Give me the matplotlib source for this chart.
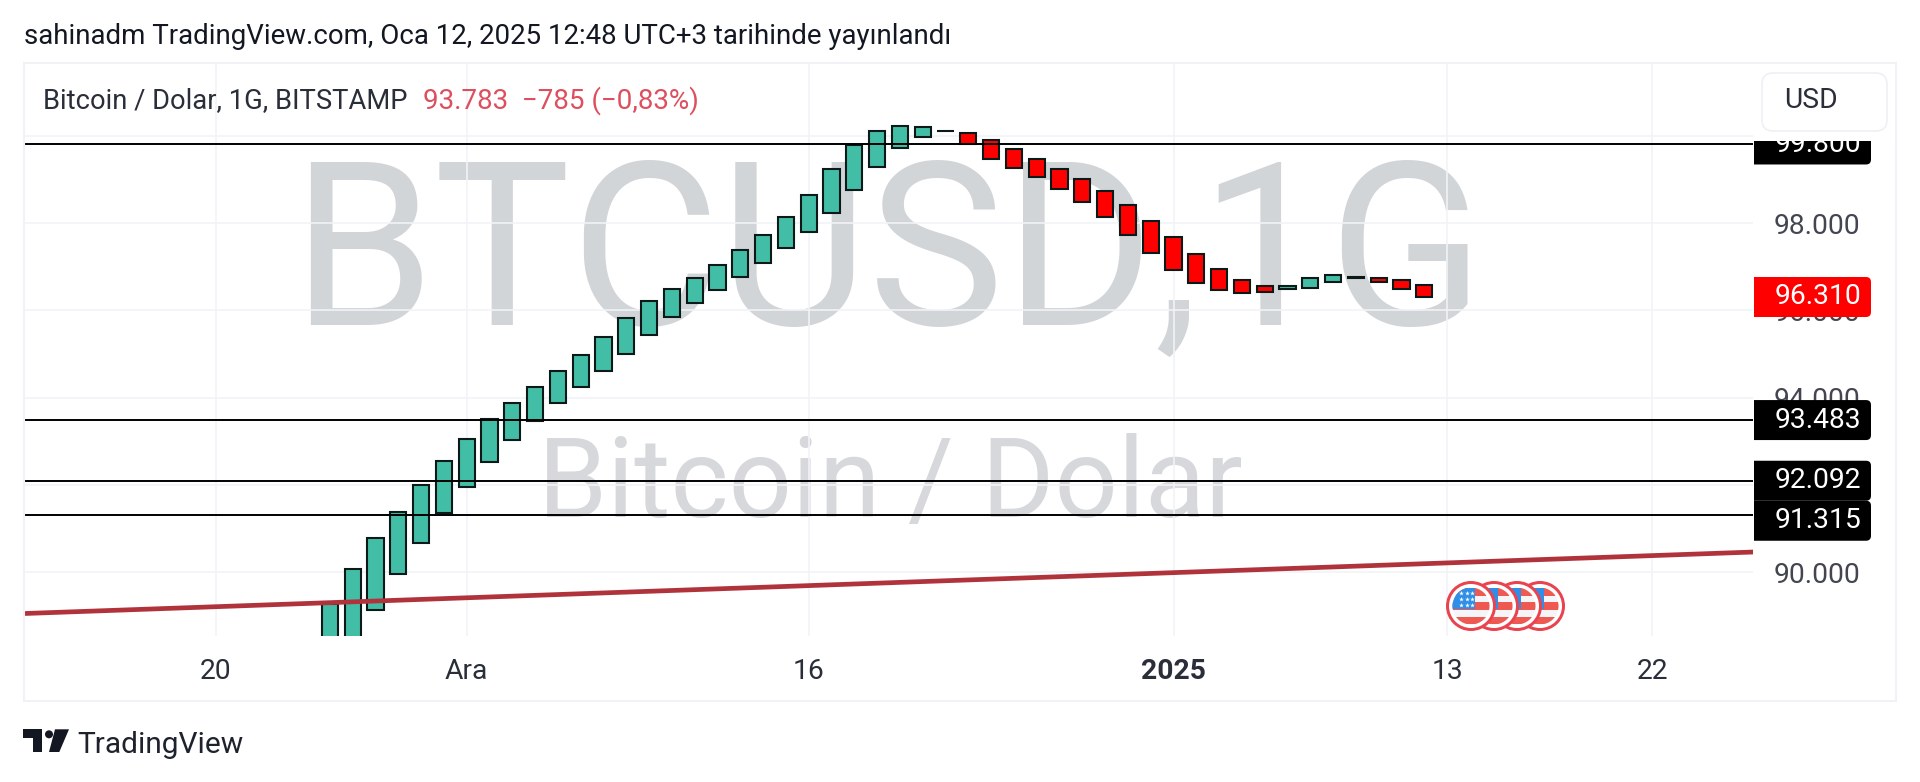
#BTCUSD daily chart, TradingView style
import matplotlib
matplotlib.use("Agg")
import matplotlib.pyplot as plt
import matplotlib.dates as mdates
from matplotlib.patches import Rectangle, FancyBboxPatch, Circle, Polygon
import pandas as pd

plt.rcParams['font.family'] = ['Roboto', 'DejaVu Sans']

#candle data, one per day (first two opens are below the visible area)
first_day = '2024-11-25'
opens = [88000, 88300, 89129, 89961, 90671, 91352, 91948, 92514, 93033, 93468,
         93867, 94234, 94614, 95004, 95433, 95838, 96159, 96471, 96762, 97090,
         97420, 97787, 98229, 98750, 99284, 99712, 99965, 100100, 100056, 99910,
         99696, 99467, 99245, 99015, 98734, 98413, 98053, 97686, 97296, 96952,
         96700, 96556, 96480, 96517, 96641, 96762, 96746, 96687, 96586]
closes = [89259, 90075, 90772, 91382, 91987, 92551, 93049, 93514, 93874, 94234,
          94607, 94981, 95387, 95829, 96212, 96487, 96739, 97044, 97374, 97725,
          98131, 98649, 99238, 99788, 100116, 100224, 100194, 100109, 99804, 99474,
          99268, 99048, 98779, 98475, 98131, 97725, 97312, 96923, 96618, 96464,
          96402, 96418, 96556, 96746, 96815, 96740, 96654, 96480, 96304]

#horizontal levels
level_values = [99800, 93483, 92092, 91315]
level_labels = ['99.800', '93.483', '92.092', '91.315']
last_price = 96304
last_label = '96.310'

#trend line
trend_dates = ['2024-11-11 14:00', '2025-01-26 10:00']
trend_prices = [89048, 90458]

#axis ticks
y_ticks = [90000, 92000, 94000, 96000, 98000, 100000]
y_labels = ['90.000', '92.000', '94.000', '96.000', '98.000', '']
x_tick_dates = ['2024-11-20', '2024-12-01', '2024-12-16', '2025-01-01', '2025-01-13', '2025-01-22']
x_tick_labels = ['20', 'Ara', '16', '2025', '13', '22']

W = 1920
H = 782
GREEN = '#43bea6'
RED = '#ff0000'
EDGE = '#0b1a18'
GRID = '#f1f3f7'
TEXT = '#2a2e39'
FS = 20.3

fig = plt.figure(figsize=(W / 100, H / 100), dpi=100, facecolor='white')

#back layer in pixels, for the watermarks
back = fig.add_axes([0, 0, 1, 1], zorder=0)
back.set_xlim(0, W)
back.set_ylim(H, 0)
back.axis('off')
back.text(888, 262, 'BTCUSD,1G', fontsize=165, color='#d2d5d8', ha='center', va='center')
back.text(890, 486, 'Bitcoin / Dolar', fontsize=80, color='#d6d8db', ha='center', va='center')

#chart
ax = fig.add_axes([24 / W, (H - 636) / H, (1753 - 24) / W, (636 - 63) / H], zorder=1)
ax.patch.set_alpha(0)

days = pd.date_range(first_day, periods=len(opens))
for i in range(len(opens)):
    low = min(opens[i], closes[i])
    col = GREEN if closes[i] >= opens[i] else RED
    ax.bar(days[i], abs(closes[i] - opens[i]), bottom=low, width=0.71,
           color=col, edgecolor=EDGE, linewidth=1.5, zorder=3)

for v in level_values:
    ax.axhline(v, color='black', linewidth=1.4, zorder=4)
ax.plot(pd.to_datetime(trend_dates), trend_prices, color='#b0333c', linewidth=3.4, zorder=5)

ax.set_xlim(mdates.date2num(pd.Timestamp('2024-11-11 14:00')),
            mdates.date2num(pd.Timestamp('2025-01-26 10:00')))
ax.set_ylim(88533, 101668)
ax.set_xticks(pd.to_datetime(x_tick_dates))
ax.set_xticklabels(x_tick_labels, fontsize=FS, color=TEXT)
ax.get_xticklabels()[3].set_fontweight('bold')
ax.yaxis.tick_right()
ax.set_yticks(y_ticks)
ax.set_yticklabels(y_labels, fontsize=FS, color='#434651', ha='right')
ax.tick_params(axis='x', length=0, pad=16)
ax.tick_params(axis='y', length=0, pad=77.5)
ax.grid(True, color=GRID, linewidth=1.2, zorder=1)
ax.set_axisbelow(True)
for s in ax.spines.values():
    s.set_visible(False)

#front layer in pixels, for tags, header and logo
top = fig.add_axes([0, 0, 1, 1], zorder=2)
top.set_xlim(0, W)
top.set_ylim(H, 0)
top.axis('off')


def price_px(v):
    return H - ax.transData.transform((0, v))[1]


def price_tag(text, yc, col):
    clip = Rectangle((1754, 0), 130, H, transform=top.transData)
    box = FancyBboxPatch((1740, yc - 20), 131, 40, boxstyle='round,pad=0,rounding_size=5',
                         facecolor=col, edgecolor='none', zorder=3)
    top.add_patch(box)
    box.set_clip_path(clip)
    top.text(1861, yc, text, color='white', fontsize=FS, ha='right', va='center', zorder=4)


price_tag(level_labels[0], price_px(level_values[0]), 'black')
price_tag(last_label, price_px(last_price), RED)
price_tag(level_labels[1], price_px(level_values[1]), 'black')
price_tag(level_labels[2], price_px(level_values[2]), 'black')
price_tag(level_labels[3], price_px(level_values[2]) + 40, 'black')

#white part above the first tag and the currency button
top.add_patch(Rectangle((1754, 64), 141, 77, facecolor='white', edgecolor='none', zorder=5))
top.add_patch(FancyBboxPatch((1762, 73), 125, 58, boxstyle='round,pad=0,rounding_size=11',
                             facecolor='white', edgecolor='#eef0f4', linewidth=1.2, zorder=6))
top.text(1784, 101, 'USD', fontsize=FS, color=TEXT, va='center', zorder=7)

#outer frame
top.add_patch(Rectangle((24, 63), 1872, 638, fill=False, edgecolor='#f0f2f5', linewidth=1.5, zorder=2))

#header and legend
top.text(24, 36, 'sahinadm TradingView.com, Oca 12, 2025 12:48 UTC+3 tarihinde yayınlandı',
         fontsize=19.9, color='#131722', va='center')
top.text(43, 101, 'Bitcoin / Dolar, 1G, BITSTAMP', fontsize=19.7, color=TEXT, va='center')
top.text(423, 101, '93.783  −785 (−0,83%)', fontsize=20, color='#dd4f5e', va='center')

#event flags, leftmost on top
for k, cx in enumerate([1540, 1517, 1494, 1471]):
    cy = 606
    z = 10 + k
    top.add_patch(Circle((cx, cy), 25, facecolor='#e8434f', edgecolor='none', zorder=z))
    top.add_patch(Circle((cx, cy), 22, facecolor='white', edgecolor='none', zorder=z))
    inner = Circle((cx, cy), 18.5, facecolor='#f5f5f7', edgecolor='none', zorder=z)
    top.add_patch(inner)
    for y0 in [-18, -4, 10.5]:
        r = Rectangle((cx - 19, cy + y0), 38, 7.5, facecolor='#ee5a52', edgecolor='none', zorder=z)
        top.add_patch(r)
        r.set_clip_path(inner)
    r = Rectangle((cx - 19, cy - 18), 23, 21, facecolor='#2f8fe8', edgecolor='none', zorder=z)
    top.add_patch(r)
    r.set_clip_path(inner)
    if k == 3:
        for sy in [-13, -7, -1]:
            for sx in [-10, -4.5, 1]:
                top.plot(cx + sx, cy + sy, marker='*', color='white', markersize=3.5,
                         markeredgewidth=0, zorder=z)

#logo
logo = '#131722'
top.add_patch(Polygon([(23.3, 729.3), (42.3, 729.3), (42.3, 752), (32.7, 752), (32.7, 737.7), (23.3, 737.7)],
                      facecolor=logo, edgecolor='none'))
top.add_patch(Circle((49, 734.3), 4, facecolor=logo, edgecolor='none'))
top.add_patch(Polygon([(55, 729.3), (69, 729.3), (59.3, 752), (49, 752)], facecolor=logo, edgecolor='none'))
top.text(77, 745, 'TradingView', fontsize=21.5, color='#1e222d', va='center')
top.set_xlim(0, W)
top.set_ylim(H, 0)

plt.savefig('out.png', dpi=100)
